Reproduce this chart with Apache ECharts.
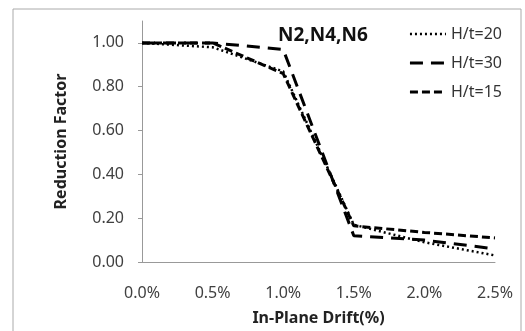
<!DOCTYPE html>
<html><head><meta charset="utf-8">
<script src="https://cdn.jsdelivr.net/npm/echarts@6/dist/echarts.min.js"></script>
<style>html,body{margin:0;padding:0;background:#fff}#c{width:525px;height:331px}</style>
</head><body><div id="c"></div>
<script>
var drift = [0, 0.005, 0.010, 0.015, 0.020, 0.025];
var ht20 = [1.00, 0.98, 0.87, 0.17, 0.09, 0.03];
var ht30 = [1.00, 1.00, 0.97, 0.12, 0.10, 0.06];
var ht15 = [1.00, 1.00, 0.86, 0.165, 0.135, 0.11];
var yTicks = [0, 0.2, 0.4, 0.6, 0.8, 1.0];
var seriesNames = ['H/t=20', 'H/t=30', 'H/t=15'];
function pairs(v){return drift.map(function(x,i){return [x,v[i]];});}
var font = 'Noto Sans';
var dash20 = [2,3], dash30 = [13,8], dash15 = [8,4];
var chart = echarts.init(document.getElementById('c'));
chart.setOption({
  animation:false,
  textStyle:{fontFamily:font},
  graphic:[{type:'rect',shape:{x:13,y:9,width:508,height:330},style:{fill:null,stroke:'#aaa',lineWidth:1}}],
  title:{text:'N2,N4,N6',left:273,top:21,textStyle:{fontFamily:font,fontSize:19,fontWeight:'bold',color:'#111'}},
  legend:{orient:'vertical',right:18,top:21,itemWidth:36,itemHeight:14,itemGap:13,
    textStyle:{fontFamily:font,fontSize:16,color:'#333'},
    data:[
      {name:seriesNames[0],itemStyle:{opacity:0},lineStyle:{color:'#000',width:2.5,type:dash20}},
      {name:seriesNames[1],itemStyle:{opacity:0},lineStyle:{color:'#000',width:3,type:dash30}},
      {name:seriesNames[2],itemStyle:{opacity:0},lineStyle:{color:'#000',width:3,type:dash15}}
    ]},
  grid:{left:142,right:30,top:21,bottom:66},
  xAxis:{type:'value',min:0,max:0.025,interval:0.005,
    name:'In-Plane Drift(%)',nameLocation:'middle',nameGap:48,
    nameTextStyle:{fontFamily:font,fontSize:16,fontWeight:'bold',color:'#222'},
    axisLine:{lineStyle:{color:'#999'}},axisTick:{show:false},splitLine:{show:false},
    axisLabel:{margin:23,fontSize:16,color:'#404040',formatter:function(v){return (v*100).toFixed(1)+'%';}}},
  yAxis:{type:'value',min:0,max:1.1,interval:0.2,
    name:'Reduction Factor',nameLocation:'middle',nameGap:73,
    nameTextStyle:{fontFamily:font,fontSize:16,fontWeight:'bold',color:'#222'},
    axisLine:{show:true,lineStyle:{color:'#999'}},
    axisTick:{show:true,length:4,lineStyle:{color:'#999'},customValues:yTicks},
    splitLine:{show:false},
    axisLabel:{margin:18,fontSize:16,color:'#404040',customValues:yTicks,formatter:function(v){return v.toFixed(2);}}},
  series:[
    {name:seriesNames[0],type:'line',symbol:'none',data:pairs(ht20),lineStyle:{color:'#000',width:2.5,type:dash20},itemStyle:{color:'#000'}},
    {name:seriesNames[1],type:'line',symbol:'none',data:pairs(ht30),lineStyle:{color:'#000',width:3,type:dash30},itemStyle:{color:'#000'}},
    {name:seriesNames[2],type:'line',symbol:'none',data:pairs(ht15),lineStyle:{color:'#000',width:3,type:dash15},itemStyle:{color:'#000'}}
  ]
});
</script></body></html>
